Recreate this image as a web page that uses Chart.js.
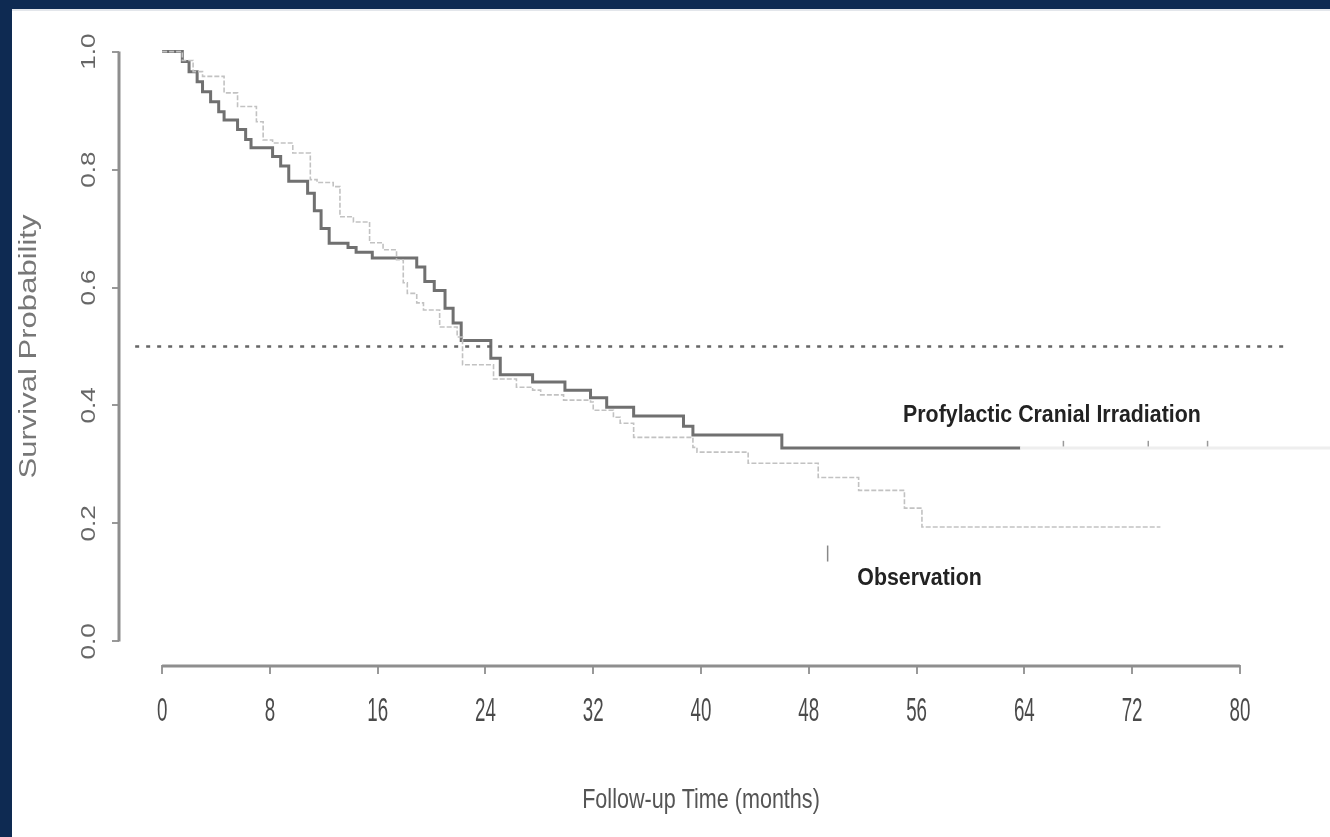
<!DOCTYPE html>
<html lang="en">
<head>
<meta charset="UTF-8" />
<title>Survival Probability</title>
<script src="https://cdn.jsdelivr.net/npm/chart.js"></script>
<style>
  html, body { margin: 0; padding: 0; width: 1330px; height: 837px; overflow: hidden; background: #0e2a52; }
  #panel { position: absolute; left: 12px; top: 9px; right: 0; bottom: 0; background: #fff; border-top: 2px solid #e3e6eb; }
  #wrap { position: absolute; left: 0; top: 0; width: 1330px; height: 837px; }
</style>
</head>
<body>
<div id="panel"></div>
<div id="wrap"><canvas id="km"></canvas></div>
<script>
// tick labels
const xTicks = [0, 8, 16, 24, 32, 40, 48, 56, 64, 72, 80];
const yTicks = [0, 0.2, 0.4, 0.6, 0.8, 1.0];

// Profylactic Cranial Irradiation
const pciTime = [0, 1.5, 2.0, 2.6, 3.0, 3.6, 4.2, 4.6, 5.6, 6.2, 6.6, 8.2, 8.8, 9.4, 10.8, 11.3, 11.8, 12.4, 13.8, 14.4, 15.6, 18.9, 19.5, 20.2, 21.0, 21.6, 22.2, 24.4, 25.1, 27.5, 29.9, 31.8, 33.0, 35.0, 38.7, 39.4, 46.0, 63.7];
const pciSurv = [1.0, 0.983, 0.966, 0.949, 0.932, 0.915, 0.898, 0.884, 0.868, 0.851, 0.837, 0.822, 0.806, 0.780, 0.760, 0.730, 0.700, 0.675, 0.668, 0.660, 0.650, 0.635, 0.610, 0.595, 0.565, 0.540, 0.510, 0.480, 0.452, 0.440, 0.426, 0.413, 0.397, 0.382, 0.365, 0.350, 0.328, 0.328];
const pciTailTime = [63.7, 86.7];
const pciTailSurv = [0.328, 0.328];
const pciCensorTime = [66.9, 73.2, 77.6];
const pciCensorSurv = [0.335, 0.335, 0.335];

// Observation
const obsTime = [0, 1.5, 2.3, 3.0, 4.6, 5.6, 7.0, 7.5, 8.2, 9.7, 11.0, 11.5, 12.7, 13.2, 14.2, 15.4, 16.4, 17.4, 17.9, 18.2, 18.9, 19.4, 20.6, 21.9, 22.3, 24.6, 26.3, 27.5, 28.1, 29.8, 31.8, 32.0, 33.5, 34.0, 35.0, 39.4, 39.7, 43.5, 48.7, 51.7, 55.1, 56.4, 74.1];
const obsSurv = [1.0, 0.985, 0.966, 0.958, 0.930, 0.907, 0.881, 0.850, 0.845, 0.828, 0.783, 0.778, 0.771, 0.720, 0.711, 0.676, 0.664, 0.647, 0.608, 0.590, 0.574, 0.562, 0.533, 0.516, 0.469, 0.445, 0.431, 0.426, 0.418, 0.409, 0.406, 0.392, 0.380, 0.370, 0.346, 0.329, 0.321, 0.302, 0.278, 0.256, 0.226, 0.194, 0.194];
const obsMarkTime = [49.4];
const obsMarkSurv = [0.149];

// median line
const refTime = [-2.0, 83.3];
const refSurv = [0.5, 0.5];

// curve labels
const labelText = ["Profylactic Cranial Irradiation", "Observation"];
const labelTime = [55.0, 51.6];
const labelSurv = [0.384, 0.107];

const xTitle = "Follow-up Time (months)";
const yTitle = "Survival Probability";

const pts = (xs, ys) => xs.map((x, i) => ({ x: x, y: ys[i] }));

const sans = "'Liberation Sans', Arial, sans-serif";

// text squeezed/stretched like the old bitmap
function drawText(ctx, text, x, y, rot, sx, sy) {
  ctx.save();
  ctx.translate(x, y);
  if (rot) ctx.rotate(rot);
  ctx.scale(sx, sy);
  ctx.fillText(text, 0, 0);
  ctx.restore();
}

// R-style detached axes, labels and titles
const rAxes = {
  id: "rAxes",
  afterDraw(chart) {
    const ctx = chart.ctx;
    const xs = chart.scales.x, ys = chart.scales.y;
    const area = chart.chartArea;
    const x0 = xs.getPixelForValue(xTicks[0]);
    const x1 = xs.getPixelForValue(xTicks[xTicks.length - 1]);
    ctx.save();
    ctx.strokeStyle = "#8e8e8e";
    ctx.lineWidth = 3;
    ctx.beginPath();
    ctx.moveTo(x0, area.bottom + 1);
    ctx.lineTo(x1, area.bottom + 1);
    ctx.moveTo(area.left, ys.getPixelForValue(yTicks[0]));
    ctx.lineTo(area.left, ys.getPixelForValue(yTicks[yTicks.length - 1]));
    ctx.stroke();

    ctx.textAlign = "center";
    ctx.textBaseline = "middle";

    // x tick labels and title
    ctx.fillStyle = "#4a4a4a";
    ctx.font = "24px " + sans;
    xTicks.forEach(v => drawText(ctx, String(v), xs.getPixelForValue(v), area.bottom + 47, 0, 0.78, 1.4));
    ctx.fillStyle = "#555";
    ctx.font = "22px " + sans;
    drawText(ctx, xTitle, (x0 + x1) / 2, area.bottom + 135, 0, 0.98, 1.28);

    // y tick labels, rotated
    ctx.fillStyle = "#666";
    ctx.font = "20px " + sans;
    yTicks.forEach(v => drawText(ctx, v.toFixed(1), area.left - 30, ys.getPixelForValue(v), -Math.PI / 2, 1.3, 1));
    ctx.fillStyle = "#777";
    ctx.font = "23px " + sans;
    drawText(ctx, yTitle, 30, (ys.getPixelForValue(0) + ys.getPixelForValue(1)) / 2, -Math.PI / 2, 1.35, 1);

    // curve labels
    ctx.fillStyle = "#222";
    ctx.font = "bold 22px " + sans;
    ctx.textAlign = "left";
    labelText.forEach((t, i) => {
      drawText(ctx, t, xs.getPixelForValue(labelTime[i]), ys.getPixelForValue(labelSurv[i]), 0, 0.97, 1.1);
    });
    ctx.restore();
  }
};

new Chart(document.getElementById("km"), {
  type: "line",
  data: {
    datasets: [
      {
        data: pts(refTime, refSurv),
        borderColor: "#666",
        borderWidth: 2.5,
        borderDash: [4, 7],
        pointRadius: 0,
        clip: false
      },
      {
        data: pts(obsTime, obsSurv),
        borderColor: "#c2c2c2",
        borderWidth: 1.6,
        borderDash: [5, 2],
        stepped: true,
        pointRadius: 0
      },
      {
        data: pts(pciTailTime, pciTailSurv),
        borderColor: "#eeeeee",
        borderWidth: 3,
        pointRadius: 0,
        clip: false
      },
      {
        data: pts(pciTime, pciSurv),
        borderColor: "#707070",
        borderWidth: 3,
        stepped: true,
        pointRadius: 0
      },
      {
        data: pts(pciCensorTime, pciCensorSurv),
        showLine: false,
        pointStyle: "line",
        rotation: 90,
        pointRadius: 3,
        borderColor: "#9a9a9a",
        borderWidth: 1.5
      },
      {
        data: pts(obsMarkTime, obsMarkSurv),
        showLine: false,
        pointStyle: "line",
        rotation: 90,
        pointRadius: 8,
        borderColor: "#888",
        borderWidth: 1.5,
        borderDash: [3, 2]
      }
    ]
  },
  options: {
    responsive: true,
    maintainAspectRatio: false,
    animation: false,
    layout: { padding: { left: 0, top: 28, right: 47, bottom: 0 } },
    plugins: { legend: { display: false }, tooltip: { enabled: false } },
    scales: {
      x: {
        type: "linear",
        min: -3.2,
        max: 83.2,
        afterBuildTicks: s => { s.ticks = xTicks.map(v => ({ value: v })); },
        afterFit: s => { s.height = 172; },
        grid: { drawOnChartArea: false, drawTicks: true, tickLength: 9, color: "#999", lineWidth: 2 },
        border: { display: false },
        ticks: { display: false }
      },
      y: {
        type: "linear",
        min: -0.04,
        max: 1.04,
        afterBuildTicks: s => { s.ticks = yTicks.map(v => ({ value: v })); },
        afterFit: s => { s.width = 119; },
        grid: { drawOnChartArea: false, drawTicks: true, tickLength: 7, color: "#999", lineWidth: 2 },
        border: { display: false },
        ticks: { display: false }
      }
    }
  },
  plugins: [rAxes]
});
</script>
</body>
</html>
